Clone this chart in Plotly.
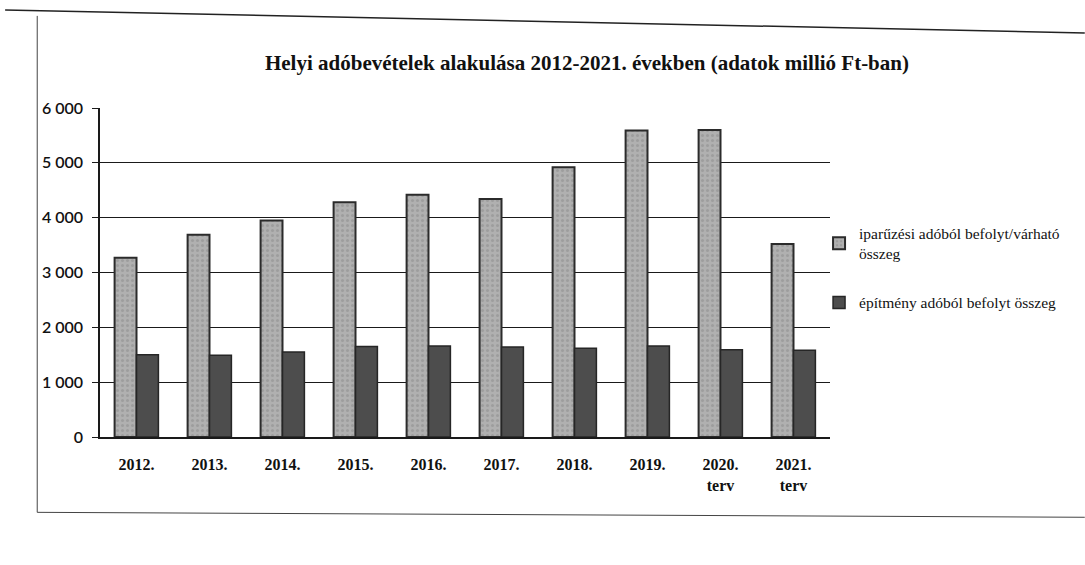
import plotly.graph_objects as go

categories = ["2012.", "2013.", "2014.", "2015.", "2016.", "2017.", "2018.", "2019.", "2020.<br>terv", "2021.<br>terv"]
iparuzesi = [3270, 3690, 3950, 4280, 4420, 4340, 4920, 5590, 5600, 3520]
epitmeny = [1500, 1490, 1550, 1650, 1660, 1640, 1620, 1660, 1590, 1580]
y_ticks = [0, 1000, 2000, 3000, 4000, 5000, 6000]
y_tick_text = ["0", "1 000", "2 000", "3 000", "4 000", "5 000", "6 000"]

serif = "Liberation Serif"
sans = "Lato"

fig = go.Figure()
fig.add_trace(go.Bar(
    x=categories, y=iparuzesi,
    name="iparűzési adóból befolyt/várható<br>összeg",
    legendgroup="ipar",
    marker=dict(color="#a6a6a6", line=dict(color="#2b2b2b", width=2),
                pattern=dict(shape=".", fgcolor="#8a8a8a", bgcolor="#b0b0b0", size=5, solidity=0.3)),
))
fig.add_trace(go.Bar(
    x=categories, y=epitmeny,
    name="építmény adóból befolyt összeg",
    legendgroup="epit",
    marker=dict(color="#4d4d4d", line=dict(color="#262626", width=1.5)),
))

fig.update_layout(
    width=1085, height=565,
    paper_bgcolor="white", plot_bgcolor="white",
    margin=dict(l=100, r=255, t=108, b=128, autoexpand=False),
    barmode="group", bargap=0.4, bargroupgap=0,
    font=dict(family=serif, color="#111", size=15),
    title=dict(text="<b>Helyi adóbevételek alakulása 2012-2021. években (adatok millió Ft-ban)</b>",
               x=0.541, xanchor="center", y=0.89, yanchor="middle",
               font=dict(family=serif, size=21, color="#111")),
    showlegend=True,
    legend=dict(x=0.985, xanchor="left", y=0.67, yanchor="top",
                traceorder="grouped", tracegroupgap=26,
                font=dict(family=serif, size=15.5, color="#111"),
                itemwidth=30, bgcolor="rgba(0,0,0,0)"),
)
fig.update_yaxes(
    range=[0, 6000], tickvals=y_ticks, ticktext=y_tick_text,
    showgrid=True, gridcolor="#1a1a1a", gridwidth=1,
    showline=True, linecolor="#1a1a1a", linewidth=1.5,
    ticks="outside", ticklen=6, tickcolor="#1a1a1a",
    ticklabelstandoff=6,
    tickfont=dict(family=sans, size=16, color="#111", weight=600),
    zeroline=False,
)
fig.update_xaxes(
    showline=True, linecolor="#1a1a1a", linewidth=1.5,
    ticks="", ticklabelstandoff=12,
    tickfont=dict(family=serif, size=16, color="#111", weight="bold"),
)

# outer frame of the embedded chart
fig.add_shape(type="line", xref="paper", yref="paper",
              x0=-0.130, x1=1.349, y0=1.298, y1=1.228, line=dict(color="#222", width=1.5))
fig.add_shape(type="line", xref="paper", yref="paper",
              x0=-0.086, x1=-0.086, y0=1.28, y1=-0.229, line=dict(color="#444", width=1))
fig.add_shape(type="line", xref="paper", yref="paper",
              x0=-0.086, x1=1.349, y0=-0.229, y1=-0.244, line=dict(color="#444", width=1))

fig.write_html("out.html", config={"displayModeBar": False},
               post_script="document.body.style.margin='0';")
